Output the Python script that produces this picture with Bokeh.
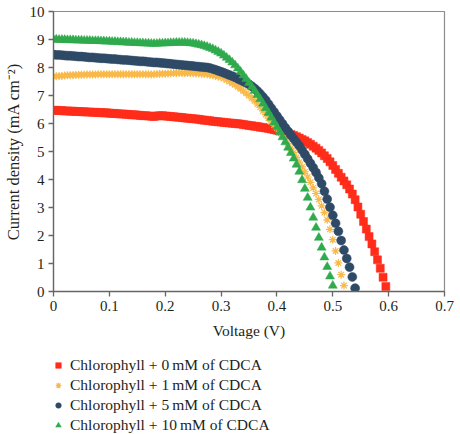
from bokeh.plotting import figure
from bokeh.layouts import column
from bokeh.models import Legend, LegendItem, FixedTicker, CustomJSTickFormatter, Range1d, ColumnDataSource
from bokeh.embed import file_html
from bokeh.resources import INLINE

voltage = [
    0.000, 0.005, 0.010, 0.015, 0.020, 0.025, 0.030, 0.035, 0.040, 0.045,
    0.050, 0.055, 0.060, 0.065, 0.070, 0.075, 0.080, 0.085, 0.090, 0.095,
    0.100, 0.105, 0.110, 0.115, 0.120, 0.125, 0.130, 0.135, 0.140, 0.145,
    0.150, 0.155, 0.160, 0.165, 0.170, 0.175, 0.180, 0.185, 0.190, 0.195,
    0.200, 0.205, 0.210, 0.215, 0.220, 0.225, 0.230, 0.235, 0.240, 0.245,
    0.250, 0.255, 0.260, 0.265, 0.270, 0.275, 0.280, 0.285, 0.290, 0.295,
    0.300, 0.305, 0.310, 0.315, 0.320, 0.325, 0.330, 0.335, 0.340, 0.345,
    0.350, 0.355, 0.360, 0.365, 0.370, 0.375, 0.380, 0.385, 0.390, 0.395,
    0.400, 0.405, 0.410, 0.415, 0.420, 0.425, 0.430, 0.435, 0.440, 0.445,
    0.450, 0.455, 0.460, 0.465, 0.470, 0.475, 0.480, 0.485, 0.490, 0.495,
    0.500, 0.505, 0.510, 0.515, 0.520, 0.525, 0.530, 0.535, 0.540, 0.545,
    0.550, 0.555, 0.560, 0.565, 0.570, 0.575, 0.580, 0.585, 0.590, 0.595,
]

j_0mM = [
    6.47, 6.47, 6.46, 6.46, 6.45, 6.45, 6.44, 6.44, 6.43, 6.43,
    6.42, 6.42, 6.41, 6.41, 6.40, 6.40, 6.39, 6.39, 6.38, 6.38,
    6.37, 6.36, 6.36, 6.35, 6.34, 6.34, 6.33, 6.32, 6.31, 6.31,
    6.30, 6.29, 6.28, 6.28, 6.27, 6.26, 6.25, 6.27, 6.28, 6.28,
    6.27, 6.26, 6.25, 6.24, 6.23, 6.22, 6.21, 6.20, 6.19, 6.18,
    6.17, 6.16, 6.15, 6.13, 6.12, 6.11, 6.10, 6.08, 6.07, 6.06,
    6.05, 6.04, 6.03, 6.02, 6.01, 6.00, 5.99, 5.98, 5.96, 5.95,
    5.93, 5.92, 5.90, 5.89, 5.87, 5.86, 5.84, 5.82, 5.80, 5.78,
    5.76, 5.73, 5.70, 5.67, 5.64, 5.61, 5.57, 5.53, 5.48, 5.43,
    5.38, 5.32, 5.26, 5.19, 5.12, 5.04, 4.95, 4.85, 4.75, 4.63,
    4.50, 4.36, 4.22, 4.08, 3.95, 3.81, 3.66, 3.48, 3.28, 3.02,
    2.76, 2.50, 2.23, 1.96, 1.70, 1.42, 1.13, 0.83, 0.51, 0.18,
]

j_1mM = [
    7.68, 7.69, 7.70, 7.70, 7.71, 7.72, 7.72, 7.73, 7.73, 7.74,
    7.74, 7.74, 7.75, 7.75, 7.75, 7.75, 7.76, 7.76, 7.76, 7.76,
    7.76, 7.76, 7.76, 7.76, 7.76, 7.76, 7.76, 7.76, 7.76, 7.76,
    7.76, 7.76, 7.76, 7.76, 7.76, 7.75, 7.76, 7.77, 7.77, 7.78,
    7.78, 7.79, 7.79, 7.80, 7.80, 7.80, 7.80, 7.80, 7.80, 7.80,
    7.80, 7.79, 7.79, 7.78, 7.77, 7.76, 7.74, 7.72, 7.70, 7.68,
    7.65, 7.61, 7.56, 7.50, 7.44, 7.38, 7.31, 7.24, 7.16, 7.08,
    7.00, 6.91, 6.81, 6.70, 6.58, 6.45, 6.32, 6.19, 6.06, 5.95,
    5.84, 5.71, 5.57, 5.43, 5.28, 5.12, 4.96, 4.79, 4.62, 4.45,
    4.27, 4.09, 3.90, 3.70, 3.50, 3.29, 3.06, 2.82, 2.56, 2.22,
    1.85, 1.45, 1.02, 0.60, 0.21,
]

j_5mM = [
    8.46, 8.45, 8.45, 8.44, 8.43, 8.42, 8.42, 8.41, 8.40, 8.39,
    8.39, 8.38, 8.37, 8.36, 8.36, 8.35, 8.34, 8.33, 8.33, 8.32,
    8.31, 8.30, 8.30, 8.29, 8.28, 8.27, 8.27, 8.26, 8.25, 8.24,
    8.23, 8.22, 8.22, 8.21, 8.20, 8.19, 8.18, 8.18, 8.17, 8.16,
    8.15, 8.14, 8.13, 8.12, 8.11, 8.10, 8.09, 8.08, 8.07, 8.06,
    8.05, 8.04, 8.03, 8.02, 8.01, 8.00, 7.98, 7.95, 7.92, 7.88,
    7.85, 7.81, 7.77, 7.73, 7.69, 7.65, 7.60, 7.55, 7.50, 7.45,
    7.40, 7.33, 7.25, 7.16, 7.06, 6.95, 6.83, 6.69, 6.55, 6.41,
    6.27, 6.13, 5.99, 5.85, 5.72, 5.59, 5.46, 5.33, 5.20, 5.05,
    4.90, 4.74, 4.58, 4.42, 4.25, 4.06, 3.85, 3.58, 3.30, 3.01,
    2.72, 2.44, 2.15, 1.82, 1.48, 1.18, 0.87, 0.52, 0.12,
]

j_10mM = [
    9.00, 9.00, 8.99, 8.99, 8.99, 8.98, 8.98, 8.98, 8.97, 8.97,
    8.97, 8.96, 8.96, 8.96, 8.95, 8.95, 8.95, 8.94, 8.94, 8.93,
    8.93, 8.92, 8.92, 8.91, 8.91, 8.90, 8.90, 8.89, 8.89, 8.88,
    8.88, 8.87, 8.87, 8.86, 8.86, 8.85, 8.85, 8.85, 8.86, 8.86,
    8.87, 8.87, 8.88, 8.88, 8.89, 8.89, 8.89, 8.89, 8.88, 8.87,
    8.86, 8.84, 8.82, 8.80, 8.77, 8.74, 8.70, 8.66, 8.61, 8.56,
    8.50, 8.43, 8.35, 8.27, 8.18, 8.08, 7.97, 7.85, 7.72, 7.59,
    7.45, 7.31, 7.17, 7.02, 6.87, 6.71, 6.55, 6.38, 6.21, 6.04,
    5.87, 5.69, 5.51, 5.33, 5.14, 4.95, 4.75, 4.53, 4.28, 3.98,
    3.67, 3.35, 3.00, 2.64, 2.28, 1.92, 1.57, 1.22, 0.88, 0.54,
    0.21,
]

labels = [
    "Chlorophyll + 0\u2009mM of CDCA",
    "Chlorophyll + 1\u2009mM of CDCA",
    "Chlorophyll + 5\u2009mM of CDCA",
    "Chlorophyll + 10\u2009mM of CDCA",
]
colors = ["#ff2d1a", "#f9b94a", "#2e4a66", "#2faa4c"]
markers = ["square", "asterisk", "circle", "triangle"]
sizes = [8, 8, 9, 9]
legend_sizes = [6, 7, 7, 7]

x_ticks = [0, 0.1, 0.2, 0.3, 0.4, 0.5, 0.6, 0.7]
y_ticks = [0, 1, 2, 3, 4, 5, 6, 7, 8, 9, 10]

FONT = "Liberation Serif"

p = figure(width=460, height=345, output_backend="svg", toolbar_location=None,
           x_range=Range1d(0, 0.7), y_range=Range1d(0, 10),
           min_border_left=52, min_border_right=16, min_border_top=11,
           min_border_bottom=54, background_fill_color="white",
           border_fill_color="white")
p.xgrid.visible = False
p.ygrid.visible = False
p.outline_line_color = "#8c8c8c"
p.outline_line_width = 1.2

series = [j_0mM, j_1mM, j_5mM, j_10mM]
sources = [ColumnDataSource(dict(v=voltage[:len(js)], j=js)) for js in series]


def add_series(fig, col, mk, sz, src):
    if mk == "asterisk":
        return fig.scatter("v", "j", source=src, marker=mk, size=sz,
                           line_color=col, line_width=1.2)
    return fig.scatter("v", "j", source=src, marker=mk, size=sz,
                       fill_color=col, line_color=col, line_width=0.5)


for col, mk, sz, src in zip(colors, markers, sizes, sources):
    add_series(p, col, mk, sz, src)

for ax in (p.xaxis[0], p.yaxis[0]):
    ax.major_tick_out = 5
    ax.major_tick_in = 0
    ax.minor_tick_out = 0
    ax.minor_tick_in = 0
    ax.axis_line_color = "#666666"
    ax.axis_line_width = 1.3
    ax.major_tick_line_color = "#666666"
    ax.major_tick_line_width = 1.3
    ax.major_label_text_font = FONT
    ax.major_label_text_font_size = "15px"
    ax.major_label_text_color = "#231f20"
    ax.axis_label_text_font = FONT
    ax.axis_label_text_font_style = "normal"
    ax.axis_label_text_color = "#231f20"

p.xaxis.axis_label_text_font_size = "15.5px"
p.yaxis.axis_label_text_font_size = "16.5px"
p.xaxis.ticker = FixedTicker(ticks=x_ticks)
p.yaxis.ticker = FixedTicker(ticks=y_ticks)
p.xaxis.formatter = CustomJSTickFormatter(code="return (Math.round(tick*10)/10).toString();")
p.yaxis.formatter = CustomJSTickFormatter(code="return Math.round(tick).toString();")
p.xaxis.major_label_standoff = 4
p.yaxis.major_label_standoff = 4
p.xaxis.axis_label = "Voltage (V)"
p.yaxis.axis_label = "Current density (mA cm\u207b\u00b2)"
p.xaxis.axis_label_standoff = 8
p.yaxis.axis_label_standoff = 4

# legend panel below the plot (same series, view placed away from the data)
leg = figure(width=460, height=89, output_backend="svg", toolbar_location=None,
             x_range=Range1d(-2, -1), y_range=Range1d(-2, -1),
             x_axis_location=None, y_axis_location=None,
             min_border=0, outline_line_color=None,
             background_fill_color="white", border_fill_color="white")
leg.xgrid.visible = False
leg.ygrid.visible = False
items = []
for lab, col, mk, sz, src in zip(labels, colors, markers, legend_sizes, sources):
    r = add_series(leg, col, mk, sz, src)
    items.append(LegendItem(label=lab, renderers=[r]))

legend = Legend(items=items, location=(-2, 0), orientation="vertical",
                glyph_width=14, glyph_height=14, label_height=14, spacing=2,
                padding=0, margin=0, border_line_alpha=0, background_fill_alpha=0,
                label_standoff=5, label_text_font=FONT, label_text_font_size="15.5px",
                label_text_color="#231f20")
leg.add_layout(legend)

layout = column(p, leg, spacing=0)
open("out.html", "w").write(file_html(layout, INLINE))
